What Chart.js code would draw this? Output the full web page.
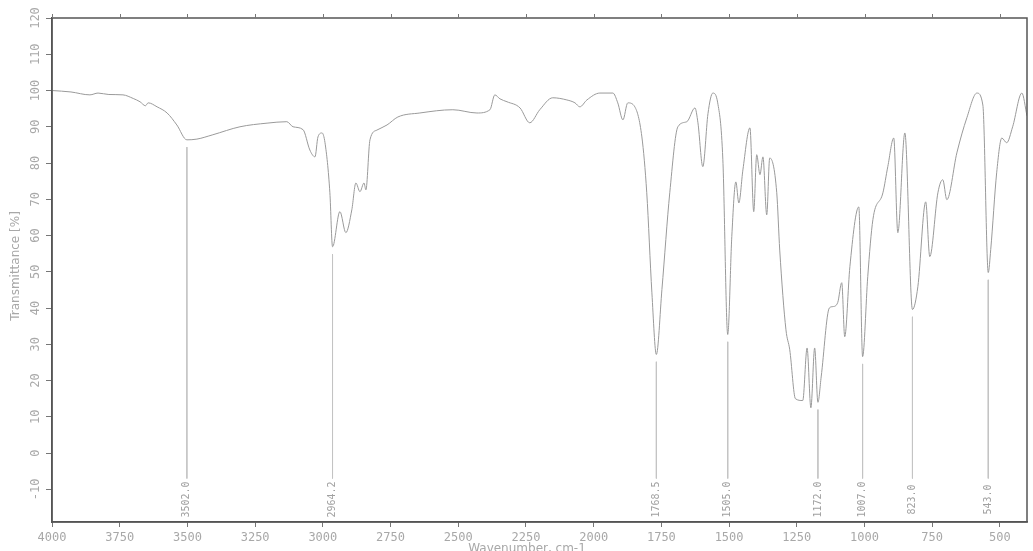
<!DOCTYPE html>
<html>
<head>
<meta charset="utf-8">
<script src="https://cdn.jsdelivr.net/npm/chart.js@4/dist/chart.umd.min.js"></script>
<style>
  html, body { margin: 0; background: #fff; }
</style>
</head>
<body>
<canvas id="ir" width="1033" height="551"></canvas>
<script>
// IR spectrum
const wavenumbers = [4000, 3930, 3860, 3830, 3790, 3738, 3700, 3675, 3655, 3645, 3612, 3575, 3539, 3502, 3465, 3406, 3306, 3206, 3133, 3110, 3073, 3048, 3029, 3018, 3003, 2992, 2974, 2964.2, 2937, 2915, 2893, 2878, 2863, 2848, 2841, 2826, 2800, 2763, 2723, 2642, 2520, 2431, 2383, 2365, 2346, 2320, 2272, 2236, 2199, 2151, 2099, 2069, 2051, 2025, 1977, 1929, 1911, 1892, 1874, 1848, 1822, 1804, 1785, 1768.5, 1748, 1719, 1689, 1656, 1626, 1615, 1597, 1578, 1560, 1542, 1523, 1505, 1490, 1475, 1464, 1449, 1423, 1409, 1398, 1386, 1375, 1361, 1350, 1324, 1313, 1290, 1276, 1255, 1228, 1212, 1198, 1184, 1172, 1160, 1130, 1117, 1099, 1084, 1073, 1054, 1021, 1007, 988, 969, 932, 914, 892, 877, 851, 823, 803, 774, 759, 729, 711, 696, 659, 622, 585, 563, 543, 534, 512, 493, 475, 453, 419, 400];
const transmittance = [100, 99.6, 98.8, 99.3, 98.9, 98.8, 97.8, 96.9, 95.8, 96.6, 95.5, 93.8, 90.5, 86.4, 86.6, 87.8, 90, 91, 91.4, 90, 89.2, 83.6, 81.7, 87.2, 88.3, 85.6, 71.8, 56.9, 66.6, 60.8, 67.1, 74.5, 72.1, 74.5, 72.6, 86.4, 89.1, 90.5, 92.7, 93.8, 94.7, 93.8, 94.7, 98.8, 97.7, 96.9, 95.2, 91.1, 94.7, 98, 97.4, 96.6, 95.5, 97.4, 99.3, 99.3, 96.6, 91.9, 96.6, 95.5, 87.2, 71.8, 44.2, 27.2, 45.1, 71.8, 90, 91.4, 95.2, 91.1, 79, 93.6, 99.3, 96.6, 80.9, 32.7, 59.7, 74.8, 69, 78.1, 89.7, 66.6, 82.3, 76.8, 81.7, 65.7, 81.4, 71.8, 56, 34, 28.5, 15, 14.5, 29, 12.5, 29, 14, 21, 40, 40.4, 41.5, 47, 32.1, 51.4, 67.9, 26.6, 48.7, 64.4, 71.8, 79, 86.9, 60.8, 88.3, 39.6, 45.9, 69.3, 54.2, 71.8, 75.4, 69.9, 82.8, 92.5, 99.3, 96, 49.8, 56.1, 77.3, 86.9, 85.6, 90, 99.3, 93];

// marked peaks
const peakPositions = [3502.0, 2964.2, 1768.5, 1505.0, 1172.0, 1007.0, 823.0, 543.0];
const peakDepths = [86.4, 56.9, 27.2, 32.7, 14, 26.6, 39.6, 49.8];
const peakLabels = ["3502.0", "2964.2", "1768.5", "1505.0", "1172.0", "1007.0", "823.0", "543.0"];

const xTicks = [4000, 3750, 3500, 3250, 3000, 2750, 2500, 2250, 2000, 1750, 1500, 1250, 1000, 750, 500];
const yTicks = [-10, 0, 10, 20, 30, 40, 50, 60, 70, 80, 90, 100, 110, 120];

const labelColor = "#a8a8a8";
const axisColor = "#555";

const spectrum = wavenumbers.map((w, i) => ({ x: w, y: transmittance[i] }));

const datasets = [{
  label: "spectrum",
  data: spectrum,
  borderColor: "#9a9a9a",
  borderWidth: 1,
  pointRadius: 0,
  cubicInterpolationMode: "monotone",
}];

peakPositions.forEach((p, i) => {
  datasets.push({
    label: peakLabels[i],
    data: [{ x: p, y: peakDepths[i] - 2 }, { x: p, y: -7 }],
    borderColor: "#c4c4c4",
    borderWidth: 1,
    pointRadius: 0,
  });
});

const labelsPlugin = {
  id: "irLabels",
  afterDraw(chart) {
    const ctx = chart.ctx;
    const a = chart.chartArea;
    const xs = chart.scales.x, ys = chart.scales.y;
    ctx.save();

    // frame
    ctx.strokeStyle = axisColor;
    ctx.lineWidth = 1.5;
    ctx.strokeRect(a.left, a.top, a.right - a.left, a.bottom - a.top);

    // small ticks on the top edge
    ctx.lineWidth = 1;
    ctx.strokeStyle = "#777";
    xTicks.forEach(v => {
      const px = Math.round(xs.getPixelForValue(v)) + 0.5;
      ctx.beginPath();
      ctx.moveTo(px, a.top - 4);
      ctx.lineTo(px, a.top);
      ctx.stroke();
    });

    ctx.fillStyle = labelColor;
    ctx.font = "12px 'DejaVu Sans Mono'";

    // x tick labels
    ctx.textAlign = "center";
    ctx.textBaseline = "middle";
    xTicks.forEach(v => {
      ctx.fillText(String(v), xs.getPixelForValue(v), 538);
    });

    // y tick labels, rotated
    yTicks.forEach(v => {
      ctx.save();
      ctx.translate(36, ys.getPixelForValue(v));
      ctx.rotate(-Math.PI / 2);
      ctx.fillText(String(v), 0, 0);
      ctx.restore();
    });

    // axis titles
    ctx.font = "12px 'DejaVu Sans'";
    ctx.save();
    ctx.translate(16, 266);
    ctx.rotate(-Math.PI / 2);
    ctx.fillText("Transmittance [%]", 0, 0);
    ctx.restore();
    ctx.textBaseline = "top";
    ctx.fillText("Wavenumber, cm-1", 527, 543);

    // peak labels
    ctx.font = "10px 'DejaVu Sans Mono'";
    ctx.fillStyle = "#a0a0a0";
    ctx.textBaseline = "middle";
    peakPositions.forEach((p, i) => {
      ctx.save();
      ctx.translate(xs.getPixelForValue(p), ys.getPixelForValue(-12.8));
      ctx.rotate(-Math.PI / 2);
      ctx.fillText(peakLabels[i], 0, 0);
      ctx.restore();
    });

    ctx.restore();
  }
};

new Chart(document.getElementById("ir"), {
  type: "line",
  data: { datasets },
  options: {
    responsive: false,
    animation: false,
    devicePixelRatio: 1,
    layout: { padding: { top: 18, right: 6, left: 0, bottom: 0 } },
    plugins: { legend: { display: false }, tooltip: { enabled: false } },
    scales: {
      x: {
        type: "linear",
        reverse: true,
        min: 400,
        max: 4000,
        afterBuildTicks: s => { s.ticks = xTicks.map(v => ({ value: v })); },
        afterFit: s => { s.height = 29; },
        ticks: { display: false },
        grid: { drawOnChartArea: false, drawTicks: true, tickLength: 5, color: "#777" },
        border: { color: axisColor, width: 1.5 },
      },
      y: {
        type: "linear",
        min: -19,
        max: 120,
        afterBuildTicks: s => { s.ticks = yTicks.map(v => ({ value: v })); },
        afterFit: s => { s.width = 52; },
        ticks: { display: false },
        grid: { drawOnChartArea: false, drawTicks: true, tickLength: 6, color: "#777" },
        border: { color: axisColor, width: 1.5 },
      },
    },
  },
  plugins: [labelsPlugin],
});
</script>
</body>
</html>
